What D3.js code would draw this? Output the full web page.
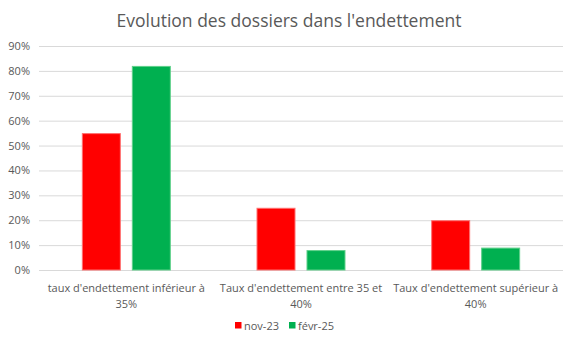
<!DOCTYPE html>
<html>
<head>
<meta charset="utf-8">
<script src="https://cdn.jsdelivr.net/npm/d3@7"></script>
<style>
  html, body { margin: 0; padding: 0; background: #fff; }
  svg { display: block; font-family: "Open Sans", sans-serif; }
</style>
</head>
<body>
<svg id="chart" width="576" height="345"></svg>
<script>
// Categories, series and values (percent)
const categories = [
  ["taux d'endettement inférieur à", "35%"],
  ["Taux d'endettement entre 35 et", "40%"],
  ["Taux d'endettement supérieur à", "40%"]
];
const seriesNames = ["nov-23", "févr-25"];
const nov23 = [55, 25, 20];
const fevr25 = [82, 8, 9];
const yTicks = [0, 10, 20, 30, 40, 50, 60, 70, 80, 90];
const colors = ["#ff0000", "#00b050"];
const strokes = ["#ff7070", "#5fd08a"];

const svg = d3.select("#chart");
const margin = { left: 39, right: 13 };
const W = 576;
const plotBottom = 270, plotTop = 46;

const x = d3.scaleBand().domain(d3.range(categories.length)).range([margin.left, W - margin.right]);
const xs = d3.scaleBand().domain(seriesNames).range([0, x.bandwidth()]).paddingInner(0.22).paddingOuter(0.857);
const y = d3.scaleLinear().domain([0, 90]).range([plotBottom, plotTop]);

// Title
svg.append("text")
  .attr("x", 289).attr("y", 27)
  .attr("text-anchor", "middle")
  .attr("font-size", 17.5)
  .attr("fill", "#595959")
  .text("Evolution des dossiers dans l'endettement");

// Grid lines
svg.append("g").selectAll("line").data(yTicks).join("line")
  .attr("x1", margin.left).attr("x2", W - margin.right)
  .attr("y1", d => y(d) + 0.5).attr("y2", d => y(d) + 0.5)
  .attr("stroke", "#d9d9d9").attr("stroke-width", 1);

// Y axis labels
const yAxis = d3.axisLeft(y).tickValues(yTicks).tickFormat(d => d + "%").tickSize(0).tickPadding(9);
const ya = svg.append("g").attr("transform", `translate(${margin.left},0)`).call(yAxis);
ya.select(".domain").remove();
ya.selectAll("text").attr("font-size", 11).attr("fill", "#595959").attr("font-family", "Open Sans, sans-serif");

// Bars
const series = [nov23, fevr25];
series.forEach((vals, si) => {
  svg.append("g").selectAll("rect").data(vals).join("rect")
    .attr("x", (d, i) => x(i) + xs(seriesNames[si]) + 0.5)
    .attr("width", xs.bandwidth() - 1)
    .attr("y", d => y(d) + 0.5)
    .attr("height", d => y(0) - y(d) - 0.5)
    .attr("fill", colors[si])
    .attr("stroke", strokes[si])
    .attr("stroke-width", 1);
});

// X category labels
const xl = svg.append("g");
categories.forEach((lines, i) => {
  const t = xl.append("text")
    .attr("x", x(i) + x.bandwidth() / 2)
    .attr("y", 292)
    .attr("text-anchor", "middle")
    .attr("font-size", 11)
    .attr("fill", "#595959");
  lines.forEach((ln, k) => {
    t.append("tspan").attr("x", x(i) + x.bandwidth() / 2).attr("dy", k === 0 ? 0 : 15.5).text(ln);
  });
});

// Legend
const legend = svg.append("g");
const legendItems = [
  { name: seriesNames[0], color: colors[0], x: 235 },
  { name: seriesNames[1], color: colors[1], x: 289 }
];
legendItems.forEach(it => {
  legend.append("rect").attr("x", it.x).attr("y", 322).attr("width", 6.5).attr("height", 6.5).attr("fill", it.color);
  legend.append("text").attr("x", it.x + 9).attr("y", 329.5)
    .attr("font-size", 11).attr("fill", "#595959").text(it.name);
});
</script>
</body>
</html>
